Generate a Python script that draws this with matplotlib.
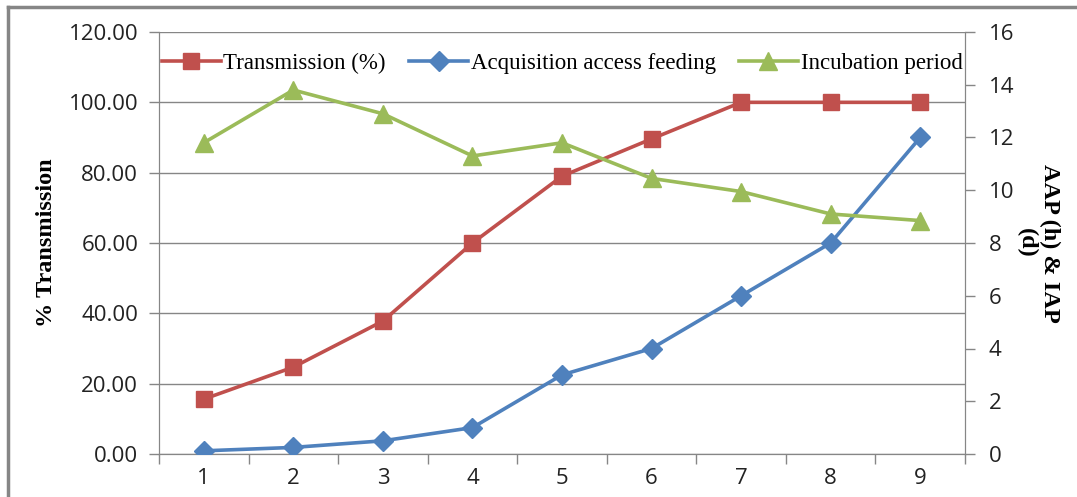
import matplotlib
matplotlib.use("Agg")
import matplotlib.pyplot as plt
from matplotlib.lines import Line2D

# data
x = [1, 2, 3, 4, 5, 6, 7, 8, 9]
transmission = [15.6, 24.7, 37.8, 60.0, 79.0, 89.6, 100.0, 100.0, 100.0]
aap = [0.12, 0.25, 0.5, 1.0, 3.0, 4.0, 6.0, 8.0, 12.0]
iap = [11.8, 13.8, 12.9, 11.3, 11.8, 10.45, 9.95, 9.1, 8.85]
left_ticks = [0, 20, 40, 60, 80, 100, 120]
right_ticks = [0, 2, 4, 6, 8, 10, 12, 14, 16]

red = "#C0504D"
blue = "#4F81BD"
green = "#9BBB59"
grey = "#868686"
tick_font = "Open Sans"
serif = "Liberation Serif"

fig = plt.figure(figsize=(10.77, 4.97), dpi=100)
ax = fig.add_axes([159 / 1077, 43 / 497, 806 / 1077, 422 / 497])
ax2 = ax.twinx()

l1, = ax.plot(x, transmission, color=red, lw=2.6, marker="s", ms=12,
              label="Transmission (%)", zorder=3)
l2, = ax2.plot(x, aap, color=blue, lw=2.6, marker="D", ms=10,
               label="Acquisition access feeding", zorder=3)
l3, = ax2.plot(x, iap, color=green, lw=2.6, marker="^", ms=13,
               label="Incubation period", zorder=3)

ax.set_xlim(0.5, 9.5)
ax.set_ylim(0, 120)
ax2.set_ylim(0, 16)
ax.set_yticks(left_ticks)
ax.set_yticklabels(["%.2f" % v for v in left_ticks])
ax2.set_yticks(right_ticks)
ax.set_xticks(x)
ax.set_xticks([v + 0.5 for v in [0] + x], minor=True)
ax.tick_params(axis="x", which="major", length=0, pad=10)
ax.tick_params(axis="x", which="minor", length=7, color=grey, width=1)
ax.tick_params(axis="y", length=7, color=grey, width=1, pad=8)
ax2.tick_params(axis="y", length=7, color=grey, width=1, pad=10)
for a in (ax, ax2):
    for lab in a.get_xticklabels() + a.get_yticklabels():
        lab.set_fontfamily(tick_font)
        lab.set_fontsize(16)
        lab.set_color("#222222")
    for s in a.spines.values():
        s.set_color(grey)
    a.spines["top"].set_visible(False)
ax.yaxis.grid(True, color=grey, lw=1)
ax.set_axisbelow(True)
ax.axhline(120, color=grey, lw=1.2, zorder=1)

ax.set_ylabel("% Transmission", fontfamily=serif, fontweight="bold",
              fontsize=17.5, labelpad=8)
ax2.set_ylabel("AAP (h) & IAP\n(d)", fontfamily=serif, fontweight="bold",
               fontsize=17.5, rotation=-90, labelpad=33, linespacing=1.1)

leg = ax.legend(handles=[l1, l2, l3], loc="upper center", ncol=3,
                frameon=False, bbox_to_anchor=(0.5, 1.0),
                handlelength=2.6, handletextpad=0.1, columnspacing=1.0,
                prop={"family": serif, "size": 16.5})

# outer chart border (top and left visible in the reference)
fig.add_artist(Line2D([8 / 1077, 8 / 1077], [0, 1 - 7 / 497],
                      transform=fig.transFigure, color=grey, lw=2.5))
fig.add_artist(Line2D([8 / 1077, 1], [1 - 7 / 497, 1 - 7 / 497],
                      transform=fig.transFigure, color=grey, lw=2.5))

fig.savefig("out.png", dpi=100)
